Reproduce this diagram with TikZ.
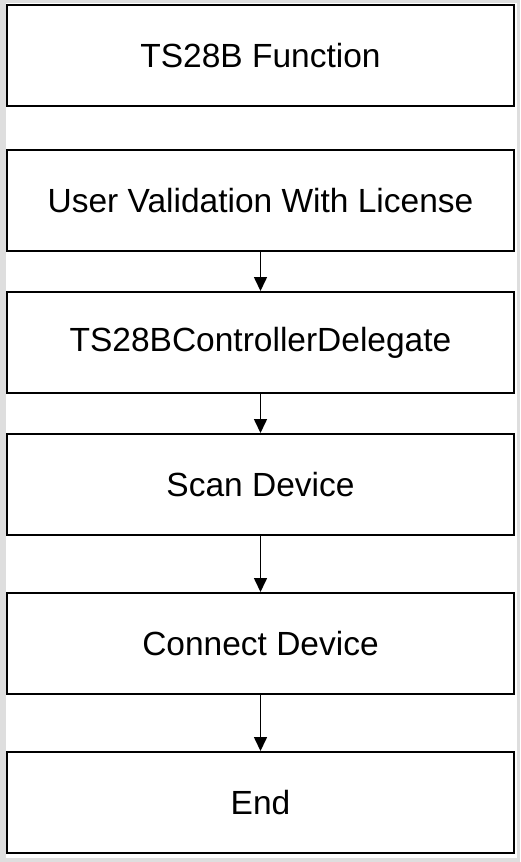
\documentclass[tikz,border=0pt]{standalone}
\usepackage{fontspec}
\setmainfont{Liberation Sans}
\usepackage{xcolor}
\usepackage{tikz}
\usetikzlibrary{positioning,arrows.meta}
\definecolor{framegray}{HTML}{DEDEDE}
\tikzset{
	stepbox/.style={draw, line width=2pt, fill=white, inner sep=0pt, minimum width=507pt, minimum height=101pt, font=\fontsize{33.5}{40}\selectfont, align=center},
	flow/.style={line width=1.6pt, -{Triangle[length=14pt,width=13pt]}}
}

\begin{document}
\begin{tikzpicture}[x=1pt,y=1pt]
	% window frame
	\fill[framegray] (0,0) rectangle (520,-862);
	\fill[white] (6,-3) rectangle (517,-858);
	\useasboundingbox (0,0) rectangle (520,-862);

	\node[stepbox] (ts-function) at (260.5,-55.5) {TS28B Function};
	\node[stepbox, below=42pt of ts-function] (user-validation) {User Validation With License};
	\node[stepbox, below=39pt of user-validation] (controller-delegate) {TS28BControllerDelegate};
	\node[stepbox, below=39pt of controller-delegate] (scan-device) {Scan Device};
	\node[stepbox, below=56pt of scan-device] (connect-device) {Connect Device};
	\node[stepbox, below=56pt of connect-device] (end) {End};

	\draw[flow] (user-validation) -- (controller-delegate);
	\draw[flow] (controller-delegate) -- (scan-device);
	\draw[flow] (scan-device) -- (connect-device);
	\draw[flow] (connect-device) -- (end);
\end{tikzpicture}
\end{document}
